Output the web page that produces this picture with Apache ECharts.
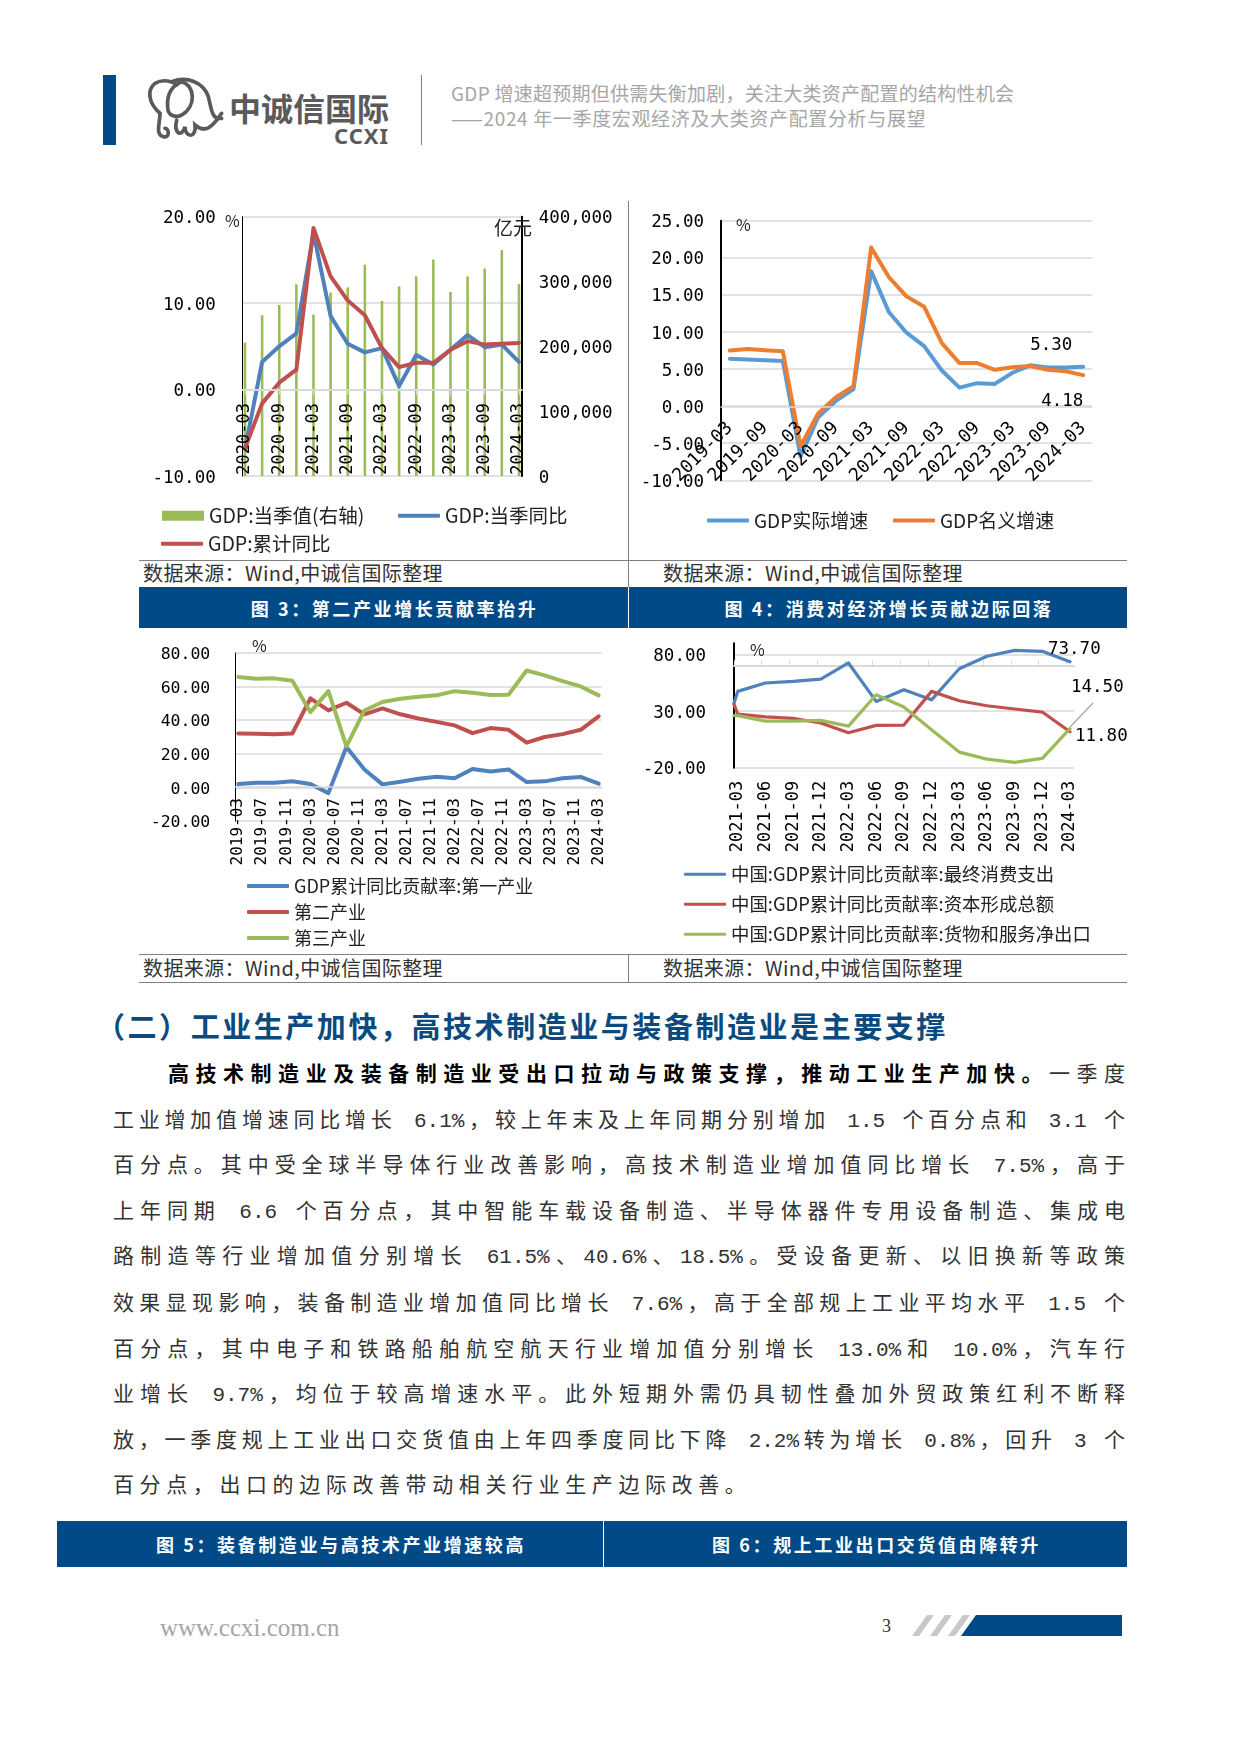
<!DOCTYPE html>
<html>
<head>
<meta charset="utf-8">
<title>GDP</title>
<script src="https://cdn.jsdelivr.net/npm/echarts@6/dist/echarts.min.js"></script>
<style>
  html, body { margin: 0; padding: 0; background: #fff; }
  #page { position: relative; width: 1241px; height: 1754px; overflow: hidden; font-family: "Noto Sans CJK SC"; }
  #page > div { position: absolute; }
  .t { line-height: 30px; white-space: nowrap; }
  .rule { background: #808080; }
  .band { background: #004A87; }
  .cap { color: #fff; font-weight: bold; font-size: 18px; letter-spacing: 2.6px; text-align: center; }
  .src { font-size: 20px; color: #333; letter-spacing: 0.4px; }
  .body { left: 113px; width: 1012px; font-family: "Liberation Mono", "Noto Sans CJK SC"; font-size: 21px; line-height: 30px; color: #333; text-align: justify; text-align-last: justify; }
  .body b { color: #000; }
  .head { color: #a6a6a6; font-size: 19px; }
</style>
</head>
<body>
<div id="page">
  <!-- header -->
  <div style="left:103px;top:75px;width:13px;height:70px;background:#004A87"></div>
  <div style="left:421px;top:75px;width:1px;height:70px;background:#5b86b5"></div>
  <svg style="position:absolute;left:140px;top:70px" width="95" height="80" viewBox="0 0 285 240" fill="none" stroke="#5a5a5a" stroke-width="11" stroke-linecap="round">
    <path d="M60 130C25 100 20 60 45 40C70 25 100 35 110 45"/>
    <path d="M85 125C78 90 85 50 125 35C165 45 170 110 125 135C105 145 90 135 85 125"/>
    <path d="M95 35C140 18 190 35 205 80C215 120 215 150 245 145"/>
    <path d="M60 130C60 160 45 195 70 200C90 205 88 175 75 175"/>
    <path d="M110 150C100 190 125 205 135 170C135 205 170 205 165 165C195 190 215 175 245 130"/>
  </svg>
  <div class="t" style="left:229px;top:92px;font-size:32px;font-weight:bold;color:#5a5a5a;line-height:30px">中诚信国际</div>
  <div class="t" style="left:334px;top:120px;font-size:22px;font-weight:bold;color:#5a5a5a;font-family:'Noto Sans';letter-spacing:1px">CCXI</div>
  <div class="t head" style="left:451px;top:78px;letter-spacing:0.25px">GDP 增速超预期但供需失衡加剧，关注大类资产配置的结构性机会</div>
  <div class="t head" style="left:451px;top:103px;letter-spacing:0.65px">——2024 年一季度宏观经济及大类资产配置分析与展望</div>

  <!-- table frame -->
  <div class="rule" style="left:628px;top:201px;width:1px;height:386px"></div>
  <div class="rule" style="left:139px;top:560px;width:988px;height:1px"></div>
  <div class="t src" style="left:143px;top:558px">数据来源：Wind,中诚信国际整理</div>
  <div class="t src" style="left:663px;top:558px">数据来源：Wind,中诚信国际整理</div>
  <div class="band" style="left:139px;top:587px;width:988px;height:41px"></div>
  <div style="left:628px;top:587px;width:1px;height:41px;background:#fff"></div>
  <div class="t cap" style="left:150px;top:593px;width:489px">图 3：第二产业增长贡献率抬升</div>
  <div class="t cap" style="left:640px;top:593px;width:498px">图 4：消费对经济增长贡献边际回落</div>
  <div class="rule" style="left:139px;top:954px;width:988px;height:1px"></div>
  <div class="rule" style="left:628px;top:954px;width:1px;height:28px"></div>
  <div class="rule" style="left:139px;top:982px;width:988px;height:1px"></div>
  <div class="t src" style="left:143px;top:953px">数据来源：Wind,中诚信国际整理</div>
  <div class="t src" style="left:663px;top:953px">数据来源：Wind,中诚信国际整理</div>

  <!-- charts -->
  <div id="c1" style="left:130px;top:190px;width:495px;height:368px"></div>
  <div id="c2" style="left:630px;top:190px;width:560px;height:368px"></div>
  <div id="c3" style="left:130px;top:630px;width:495px;height:322px"></div>
  <div id="c4" style="left:630px;top:630px;width:560px;height:322px"></div>

  <!-- text -->
  <div class="t" style="left:96px;top:1007px;line-height:36px;font-size:29px;font-weight:bold;color:#0B4A7E;letter-spacing:2.55px">（二）工业生产加快，高技术制造业与装备制造业是主要支撑</div>
  <div class="body" style="left:168px;width:957px;top:1061px"><b>高技术制造业及装备制造业受出口拉动与政策支撑，推动工业生产加快。</b>一季度</div>
  <div class="body" style="top:1107px">工业增加值增速同比增长 6.1%，较上年末及上年同期分别增加 1.5 个百分点和 3.1 个</div>
  <div class="body" style="top:1152px">百分点。其中受全球半导体行业改善影响，高技术制造业增加值同比增长 7.5%，高于</div>
  <div class="body" style="top:1198px">上年同期 6.6 个百分点，其中智能车载设备制造、半导体器件专用设备制造、集成电</div>
  <div class="body" style="top:1243px">路制造等行业增加值分别增长 61.5%、40.6%、18.5%。受设备更新、以旧换新等政策</div>
  <div class="body" style="top:1290px">效果显现影响，装备制造业增加值同比增长 7.6%，高于全部规上工业平均水平 1.5 个</div>
  <div class="body" style="top:1336px">百分点，其中电子和铁路船舶航空航天行业增加值分别增长 13.0%和 10.0%，汽车行</div>
  <div class="body" style="top:1381px">业增长 9.7%，均位于较高增速水平。此外短期外需仍具韧性叠加外贸政策红利不断释</div>
  <div class="body" style="top:1427px">放，一季度规上工业出口交货值由上年四季度同比下降 2.2%转为增长 0.8%，回升 3 个</div>
  <div class="body" style="top:1472px;text-align:left;text-align-last:left;letter-spacing:5.6px">百分点，出口的边际改善带动相关行业生产边际改善。</div>

  <!-- bottom captions and footer -->
  <div class="band" style="left:57px;top:1521px;width:1070px;height:46px"></div>
  <div style="left:603px;top:1521px;width:1px;height:46px;background:#fff"></div>
  <div class="t cap" style="left:68px;top:1529px;width:546px">图 5：装备制造业与高技术产业增速较高</div>
  <div class="t cap" style="left:615px;top:1529px;width:523px">图 6：规上工业出口交货值由降转升</div>
  <div class="t" style="left:160px;top:1613px;font-family:'Liberation Serif';font-size:25px;color:#a6a6a6">www.ccxi.com.cn</div>
  <div class="t" style="left:882px;top:1611px;font-family:'Liberation Serif';font-size:18px;color:#333">3</div>
  <svg style="position:absolute;left:905px;top:1610px" width="225" height="30">
    <polygon points="7,26 14,26 29,5 22,5" fill="#c8c8c8"/>
    <polygon points="25,26 32,26 47,5 40,5" fill="#c8c8c8"/>
    <polygon points="43,26 50,26 65,5 58,5" fill="#c8c8c8"/>
    <polygon points="56,26 217,26 217,5 71,5" fill="#004A87"/>
  </svg>
</div>

<script>
// chart 1
var q1 = ['2020-03','2020-06','2020-09','2020-12','2021-03','2021-06','2021-09','2021-12','2022-03','2022-06','2022-09','2022-12','2023-03','2023-06','2023-09','2023-12','2024-03'];
var gdpValue = [205700,248000,263800,295600,249000,282800,291000,326000,270000,292500,308000,334000,284000,308000,320000,348600,296000];
var gdpQuarter = [-6.9,3.2,5.0,6.5,18.1,8.5,5.3,4.3,4.8,0.4,4.0,2.9,4.6,6.3,4.9,5.2,3.2];
var gdpCumul = [-6.8,-1.6,0.8,2.3,18.7,13.1,10.3,8.6,4.8,2.6,3.1,3.1,4.6,5.6,5.2,5.3,5.4];
// chart 2
var q2 = ['2019-03','2019-06','2019-09','2019-12','2020-03','2020-06','2020-09','2020-12','2021-03','2021-06','2021-09','2021-12','2022-03','2022-06','2022-09','2022-12','2023-03','2023-06','2023-09','2023-12','2024-03'];
var gdpReal = [6.4,6.3,6.2,6.1,-6.8,-1.5,0.7,2.3,18.2,12.7,9.9,8.1,4.8,2.5,3.1,3.0,4.5,5.5,5.2,5.2,5.3];
var gdpNominal = [7.5,7.7,7.55,7.4,-5.4,-1.0,1.2,2.7,21.4,17.4,14.8,13.4,8.5,5.8,5.8,4.9,5.25,5.4,4.9,4.7,4.18];
// chart 3
var shareFirst = [2.0,2.8,2.8,3.6,2.0,-3.4,24.0,10.7,1.8,3.4,5.2,6.3,5.4,10.9,9.5,10.7,3.2,3.6,5.4,6.2,2.2];
var shareSecond = [32.1,32.0,31.7,32.1,53.0,45.8,50.4,43.5,47.0,43.5,41.0,39.0,36.9,32.3,35.3,34.3,26.6,30.0,31.7,34.3,42.3];
var shareThird = [65.7,64.7,64.9,63.5,44.8,57.3,24.4,45.8,50.8,52.8,54.0,54.8,57.3,56.3,55.0,55.2,69.6,66.7,63.3,60.1,54.8];
// chart 4
var q4 = ['2021-03','2021-06','2021-09','2021-12','2022-03','2022-06','2022-09','2022-12','2023-03','2023-06','2023-09','2023-12','2024-03'];
var consume = [47.5,54.9,56.3,58.4,72.6,38.6,49.0,40.0,67.5,78.5,83.8,82.9,73.7];
var capital = [27.4,25.0,23.6,19.5,10.9,17.4,17.7,47.5,39.2,34.8,31.9,29.2,11.8];
var netExport = [26.0,21.2,21.2,21.8,16.8,44.5,33.6,13.6,-6.2,-12.4,-15.3,-11.8,14.5];
var leadIn = [37, 36, 26]; // where the three lines enter at the left edge of chart 4

var num = '"DejaVu Sans Mono"';
var cjk = '"Noto Sans CJK SC"';
var grey = '#d9d9d9';
// top aligned with a small line height puts the digits about 2px under the grid line, as in the original
var numText = function (size) { return { fontFamily: num, fontSize: size || 17.5, color: '#000', verticalAlign: 'top', lineHeight: 4 }; };
var gridLine = { show: true, lineStyle: { color: grey, width: 1.5 } };
var pct = function (v) { return v.toFixed(2); };

function line(name, data, color, width, extra) {
  return Object.assign({
    name: name, type: 'line', data: data, symbol: 'none', smooth: false,
    lineStyle: { color: color, width: width, cap: 'round', join: 'round' },
    itemStyle: { color: color }
  }, extra || {});
}
function lg(name, left, top, size, h, icon) {
  return {
    data: [{ name: name, icon: icon || 'roundRect' }], left: left, top: top, padding: 0, itemWidth: 42, itemHeight: h || 4,
    textStyle: { fontFamily: cjk, fontSize: size || 18, color: '#222' }
  };
}
function unit(text, left, top, size) {
  return { type: 'text', left: left, top: top, z: 10, style: { text: text, font: (size || 16) + 'px ' + cjk, fill: '#222' } };
}
function pairs(xs, ys) { return ys.map(function (v, i) { return [xs[i], v]; }); }
function indexes(arr, step) { return arr.map(function (_, i) { return i; }).filter(function (i) { return i % step === 0; }); }

// -------- chart 1
var c1 = echarts.init(document.getElementById('c1'));
c1.setOption({
  animation: false,
  grid: { left: 112.7, top: 26.7, width: 279, height: 259.3 },
  legend: [lg('GDP:当季值(右轴)', 32, 316, 19.5, 10, 'rect'), lg('GDP:当季同比', 268, 316, 19.5), lg('GDP:累计同比', 31, 344, 19.5)],
  graphic: [unit('%', 95, 23), unit('亿元', 364, 28, 19)],
  xAxis: {
    type: 'value', min: -0.134, max: 16.16, z: 5, offset: -86, splitLine: { show: false },
    axisLine: { onZero: false, lineStyle: { color: grey, width: 2 } },
    axisTick: { customValues: indexes(q1, 2), length: 5, lineStyle: { color: grey } },
    axisLabel: { customValues: indexes(q1, 2), rotate: 90, margin: 13, formatter: function (v) { return q1[v]; }, fontFamily: num, fontSize: 17, color: '#000' }
  },
  yAxis: [
    { type: 'value', min: -10, max: 20, interval: 10, splitLine: gridLine, axisTick: { show: false },
      axisLine: { show: true, onZero: false, lineStyle: { color: '#000', width: 1 } },
      axisLabel: Object.assign({ margin: 27, formatter: pct }, numText()) },
    { type: 'value', min: 0, max: 400000, interval: 100000, splitLine: { show: false }, axisTick: { show: false },
      axisLine: { show: true, onZero: false, lineStyle: { color: '#000', width: 2 } },
      axisLabel: Object.assign({ margin: 17, formatter: function (v) { return v.toLocaleString('en-US'); } }, numText()) }
  ],
  series: [
    { name: 'GDP:当季值(右轴)', type: 'bar', yAxisIndex: 1, barWidth: 2.6, itemStyle: { color: '#9BBB59' }, data: gdpValue.map(function (v, i) { return [i, v]; }) },
    line('GDP:当季同比', gdpQuarter.map(function (v, i) { return [i, v]; }), '#4F81BD', 4),
    line('GDP:累计同比', gdpCumul.map(function (v, i) { return [i, v]; }), '#C0504D', 4)
  ]
});

// -------- chart 2
var c2 = echarts.init(document.getElementById('c2'));
c2.setOption({
  animation: false,
  grid: { left: 91, top: 30.7, width: 371, height: 259.6 },
  legend: [lg('GDP实际增速', 77, 321, 19), lg('GDP名义增速', 263, 321, 19)],
  graphic: [unit('%', 106, 27)],
  xAxis: {
    type: 'category', data: q2, z: 5, offset: -74,
    axisLine: { onZero: false, lineStyle: { color: grey, width: 1.5 } },
    axisTick: { show: false },
    axisLabel: { interval: 1, rotate: 45, margin: 19, fontFamily: num, fontSize: 18, color: '#000' }
  },
  yAxis: {
    type: 'value', min: -10, max: 25, interval: 5, splitLine: gridLine, axisTick: { show: false },
    axisLine: { show: true, onZero: false, lineStyle: { color: '#000', width: 2 } },
    axisLabel: Object.assign({ margin: 17, formatter: pct }, numText())
  },
  series: [
    line('GDP实际增速', gdpReal, '#5B9BD5', 4, { endLabel: { show: true, formatter: '5.30', offset: [-61, -21], fontFamily: num, fontSize: 17.5, color: '#000' } }),
    line('GDP名义增速', gdpNominal, '#ED7D31', 4, { endLabel: { show: true, formatter: '4.18', offset: [-50, 26], fontFamily: num, fontSize: 17.5, color: '#000' } })
  ]
});

// -------- chart 3: monthly axis, values only at quarter ends
var months = [];
for (var y = 2019; y <= 2024; y++) {
  for (var m = 1; m <= 12; m++) {
    if ((y === 2019 && m < 3) || (y === 2024 && m > 3)) continue;
    months.push(y + '-' + (m < 10 ? '0' : '') + m);
  }
}
var c3 = echarts.init(document.getElementById('c3'));
c3.setOption({
  animation: false,
  grid: { left: 105.3, top: 23, width: 366.4, height: 168 },
  legend: [lg('GDP累计同比贡献率:第一产业', 117, 247, 18), lg('第二产业', 117, 273, 18), lg('第三产业', 117, 299, 18)],
  graphic: [unit('%', 122, 8)],
  xAxis: {
    type: 'category', data: months, z: 5, offset: -34,
    axisLine: { onZero: false, lineStyle: { color: grey, width: 1.5 } },
    axisTick: { interval: 3, length: 5, lineStyle: { color: grey } },
    axisLabel: { interval: 3, rotate: 90, margin: 11, fontFamily: num, fontSize: 16, color: '#000' }
  },
  yAxis: {
    type: 'value', min: -20, max: 80, interval: 20, splitLine: gridLine, axisTick: { show: false },
    axisLine: { show: true, onZero: false, lineStyle: { color: '#000', width: 1 } },
    axisLabel: Object.assign({ margin: 25, formatter: pct }, numText(16.5))
  },
  series: [
    line('GDP累计同比贡献率:第一产业', pairs(q2, shareFirst), '#4F81BD', 4),
    line('第二产业', pairs(q2, shareSecond), '#C0504D', 4),
    line('第三产业', pairs(q2, shareThird), '#9BBB59', 4)
  ]
});

// -------- chart 4
var c4 = echarts.init(document.getElementById('c4'));
var xMin = -0.134, xMax = 12.145;
function withLead(v, arr) { return [[xMin, v]].concat(arr.map(function (a, i) { return [i, a]; })); }
var yTicks = [-20, 30, 80];
c4.setOption({
  animation: false,
  grid: { left: 104, top: 13.3, width: 340, height: 124.4 },
  legend: [lg('中国:GDP累计同比贡献率:最终消费支出', 54, 235, 18.4, 3), lg('中国:GDP累计同比贡献率:资本形成总额', 54, 265, 18.4, 3), lg('中国:GDP累计同比贡献率:货物和服务净出口', 54, 295, 18.4, 3)],
  graphic: [
    unit('%', 120, 12),
    { type: 'line', z: 3, shape: { x1: 440, y1: 97, x2: 463, y2: 73 }, style: { stroke: '#a6a6a6', lineWidth: 1.2 } }
  ],
  xAxis: [
    { type: 'value', min: xMin, max: xMax, z: 5, splitLine: { show: false }, axisLine: { show: false, onZero: false }, axisTick: { show: false },
      axisLabel: { customValues: indexes(q4, 1), rotate: 90, margin: 13, formatter: function (v) { return q4[v]; }, fontFamily: num, fontSize: 17, color: '#000' } },
    { type: 'value', min: xMin, max: xMax, offset: -22, splitLine: { show: false }, axisLabel: { show: false },
      axisLine: { onZero: false, lineStyle: { color: grey, width: 2 } },
      axisTick: { customValues: indexes(q4, 1).map(function (i) { return i + xMin; }), length: 5, lineStyle: { color: grey } } }
  ],
  yAxis: {
    type: 'value', min: -20, max: 90, splitLine: { show: true, lineStyle: { color: grey, width: 1.5 } },
    axisTick: { show: false, customValues: yTicks },
    axisLine: { show: true, onZero: false, lineStyle: { color: '#000', width: 2 } },
    axisLabel: Object.assign({ customValues: yTicks, margin: 28, formatter: pct }, numText())
  },
  series: [
    line('中国:GDP累计同比贡献率:最终消费支出', withLead(leadIn[0], consume), '#4F81BD', 3.2, { endLabel: { show: true, formatter: '73.70', offset: [-30, -12], fontFamily: num, fontSize: 17.5, color: '#000' } }),
    line('中国:GDP累计同比贡献率:资本形成总额', withLead(leadIn[1], capital), '#C0504D', 3.2, { endLabel: { show: true, formatter: '11.80', offset: [-3, 5], fontFamily: num, fontSize: 17.5, color: '#000' } }),
    line('中国:GDP累计同比贡献率:货物和服务净出口', withLead(leadIn[2], netExport), '#9BBB59', 3.2, { endLabel: { show: true, formatter: '14.50', offset: [-7, -41], fontFamily: num, fontSize: 17.5, color: '#000' } })
  ]
});
</script>
</body>
</html>
